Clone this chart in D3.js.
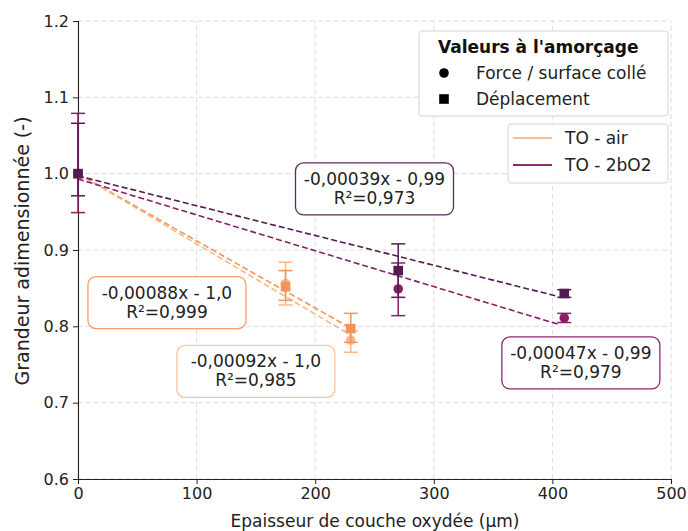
<!DOCTYPE html>
<html><head><meta charset="utf-8">
<script src="https://cdn.jsdelivr.net/npm/d3@7"></script>
<style>body{margin:0;background:#fff}svg{display:block;font-family:"DejaVu Sans",sans-serif}</style>
</head><body><svg id="c" width="688" height="531"></svg>
<script>
// ---- data ----
const xTicks = [0, 100, 200, 300, 400, 500];
const yTicks = [0.6, 0.7, 0.8, 0.9, 1.0, 1.1, 1.2];
const yTickLabels = ["0.6", "0.7", "0.8", "0.9", "1.0", "1.1", "1.2"];

const airX = [0, 175, 230];
const airForce = [1.0, 0.856, 0.782];
const airForceErrLow = [0, 0.028, 0.016];
const airForceErrHigh = [0, 0.028, 0.012];
const airDepl = [1.0, 0.852, 0.797];
const airDeplErrLow = [0, 0.018, 0.018];
const airDeplErrHigh = [0, 0.021, 0.02];

const oxX = [0, 270, 410];
const oxForce = [1.0, 0.849, 0.811];
const oxForceErrLow = [0.051, 0.035, 0.006];
const oxForceErrHigh = [0.079, 0.034, 0.006];
const oxDepl = [1.0, 0.873, 0.843];
const oxDeplErrLow = [0.029, 0.035, 0.005];
const oxDeplErrHigh = [0.066, 0.035, 0.005];

const fitSlopes = [-0.00088, -0.00092, -0.00039, -0.00047];
const fitIntercepts = [1.0, 1.0, 0.997, 0.993];
const fitXEnd = [230, 230, 405, 405];
const fitLabels = [["-0,00088x - 1,0", "R²=0,999"], ["-0,00092x - 1,0", "R²=0,985"],
                   ["-0,00039x - 0,99", "R²=0,973"], ["-0,00047x - 0,99", "R²=0,979"]];
// label box centres in data units
const fitLabelX = [75, 150, 250, 424];
const fitLabelY = [0.831, 0.741, 0.980, 0.752];

const C = {
  airDepl: "#f4935a", airForce: "#f9b88c",
  oxDepl: "#521a52", oxForce: "#8a2060",
  legAir: "#fbbf95", legOx: "#8c2a6c"
};
const fitColors = [C.airDepl, C.airForce, C.oxDepl, C.oxForce];
const boxColors = ["#f4a06c", "#f9c3a0", "#5e2b60", "#8c2a6c"];

// ---- scales ----
const svg = d3.select("#c");
const x = d3.scaleLinear().domain([0, 500]).range([78, 671]);
const y = d3.scaleLinear().domain([0.6, 1.2]).range([479, 21]);

// grid
const grid = svg.append("g");
xTicks.forEach(t => grid.append("line").attr("x1", x(t)).attr("x2", x(t)).attr("y1", y(0.6)).attr("y2", y(1.2))
  .attr("stroke", "#dcdcdc").attr("stroke-width", 1).attr("stroke-dasharray", "5,3"));
yTicks.forEach(t => grid.append("line").attr("x1", x(0)).attr("x2", x(500)).attr("y1", y(t)).attr("y2", y(t))
  .attr("stroke", "#dcdcdc").attr("stroke-width", 1).attr("stroke-dasharray", "5,3"));

// axes
const xAxis = svg.append("g").attr("transform", `translate(0,${y(0.6)})`)
  .call(d3.axisBottom(x).tickValues(xTicks).tickSize(5).tickPadding(4));
const yAxis = svg.append("g").attr("transform", `translate(${x(0)},0)`)
  .call(d3.axisLeft(y).tickValues(yTicks).tickFormat((d, i) => yTickLabels[i]).tickSize(5).tickPadding(4));
[xAxis, yAxis].forEach(a => {
  a.selectAll("text").attr("font-size", 16).attr("fill", "#222").attr("font-family", "DejaVu Sans");
  a.selectAll("line").attr("stroke", "#222");
  a.select(".domain").attr("stroke", "#222").attr("stroke-width", 1.1);
});

// fit lines
const fits = svg.append("g");
fitSlopes.forEach((s, i) => {
  fits.append("line")
    .attr("x1", x(0)).attr("y1", y(fitIntercepts[i]))
    .attr("x2", x(fitXEnd[i])).attr("y2", y(fitIntercepts[i] + s * fitXEnd[i]))
    .attr("stroke", fitColors[i]).attr("stroke-width", 1.6).attr("stroke-dasharray", "6,3");
});

// error bars + markers
function series(xs, ys, lo, hi, color, shape) {
  const g = svg.append("g");
  xs.forEach((xv, i) => {
    const cx = x(xv);
    const y1 = y(ys[i] + hi[i]), y0 = y(ys[i] - lo[i]);
    if (hi[i] + lo[i] > 0) {
      g.append("line").attr("x1", cx).attr("x2", cx).attr("y1", y1).attr("y2", y0).attr("stroke", color).attr("stroke-width", 1.5);
      [y1, y0].forEach(yy => g.append("line").attr("x1", cx - 7).attr("x2", cx + 7).attr("y1", yy).attr("y2", yy)
        .attr("stroke", color).attr("stroke-width", 1.5));
    }
    if (shape === "circle") {
      g.append("circle").attr("cx", cx).attr("cy", y(ys[i])).attr("r", 4.8).attr("fill", color);
    } else {
      g.append("rect").attr("x", cx - 4.8).attr("y", y(ys[i]) - 4.8).attr("width", 9.6).attr("height", 9.6).attr("fill", color);
    }
  });
}
series(airX, airForce, airForceErrLow, airForceErrHigh, C.airForce, "circle");
series(airX, airDepl, airDeplErrLow, airDeplErrHigh, C.airDepl, "square");
series(oxX, oxForce, oxForceErrLow, oxForceErrHigh, C.oxForce, "circle");
series(oxX, oxDepl, oxDeplErrLow, oxDeplErrHigh, C.oxDepl, "square");

// annotation boxes
fitLabels.forEach((lab, i) => {
  const g = svg.append("g");
  const cx = x(fitLabelX[i]), cy = y(fitLabelY[i]);
  const t = g.append("text").attr("text-anchor", "middle").attr("font-size", 17).attr("fill", "#222");
  t.append("tspan").attr("x", cx).attr("y", cy - 4).text(lab[0]);
  t.append("tspan").attr("x", cx).attr("y", cy + 15).text(lab[1]);
  const w = 158, h = 52;
  g.insert("rect", "text").attr("x", cx - w / 2).attr("y", cy - h / 2).attr("width", w).attr("height", h)
    .attr("rx", 8).attr("fill", "#fff").attr("stroke", boxColors[i]).attr("stroke-width", 1.3);
});

// legend 1
const l1 = svg.append("g");
l1.append("rect").attr("x", 419).attr("y", 31).attr("width", 249).attr("height", 85).attr("rx", 3)
  .attr("fill", "#fff").attr("fill-opacity", 0.85).attr("stroke", "#d5d5d5");
l1.append("text").attr("x", 438).attr("y", 53).attr("font-size", 17).attr("font-weight", "bold").attr("fill", "#111").text("Valeurs à l'amorçage");
l1.append("circle").attr("cx", 444).attr("cy", 73).attr("r", 4.8).attr("fill", "#000");
l1.append("text").attr("x", 476).attr("y", 79).attr("font-size", 17).attr("fill", "#222").text("Force / surface collé");
l1.append("rect").attr("x", 439.2).attr("y", 94.2).attr("width", 9.6).attr("height", 9.6).attr("fill", "#000");
l1.append("text").attr("x", 476).attr("y", 105).attr("font-size", 17).attr("fill", "#222").text("Déplacement");

// legend 2
const legNames = ["TO - air", "TO - 2bO2"];
const legColors = [C.legAir, C.legOx];
const l2 = svg.append("g");
l2.append("rect").attr("x", 508).attr("y", 124).attr("width", 160).attr("height", 59).attr("rx", 3)
  .attr("fill", "#fff").attr("fill-opacity", 0.85).attr("stroke", "#d5d5d5");
legNames.forEach((n, i) => {
  const yy = 138 + i * 27;
  l2.append("line").attr("x1", 513).attr("x2", 552).attr("y1", yy).attr("y2", yy).attr("stroke", legColors[i]).attr("stroke-width", 2);
  l2.append("text").attr("x", 565).attr("y", yy + 6).attr("font-size", 17).attr("fill", "#222").text(n);
});

// axis titles
svg.append("text").attr("x", 375).attr("y", 527).attr("text-anchor", "middle").attr("font-size", 17).attr("fill", "#222")
  .text("Epaisseur de couche oxydée (µm)");
svg.append("text").attr("transform", `translate(29,251) rotate(-90)`).attr("text-anchor", "middle").attr("font-size", 19).attr("fill", "#222")
  .text("Grandeur adimensionnée (-)");
</script></body></html>
